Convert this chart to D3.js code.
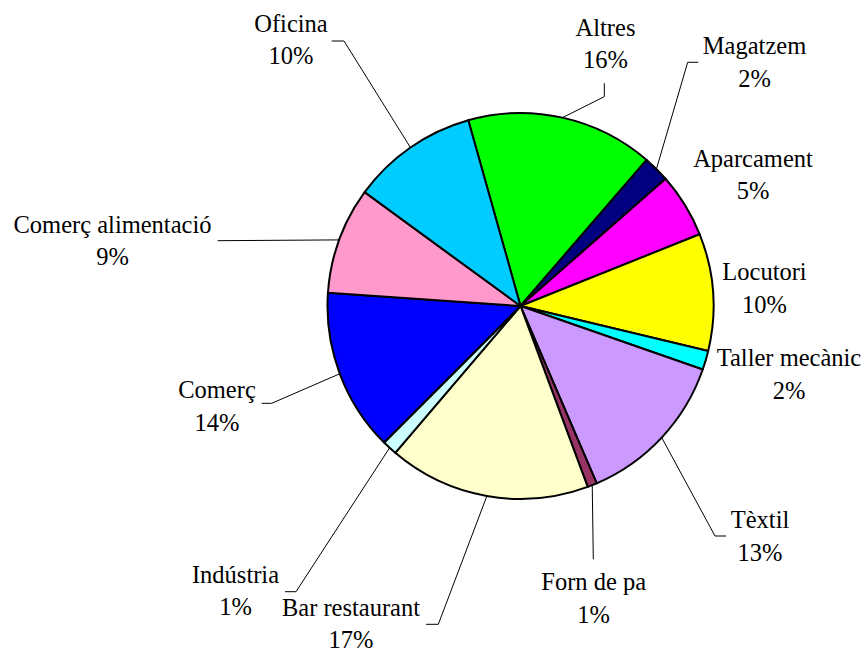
<!DOCTYPE html>
<html>
<head>
<meta charset="utf-8">
<script src="https://cdn.jsdelivr.net/npm/d3@7"></script>
<style>
  html, body { margin: 0; padding: 0; background: #fff; }
  svg { display: block; }
</style>
</head>
<body>
<div id="chart"></div>
<script>
// Categories, in drawing order (clockwise)
var categories = ['Altres', 'Magatzem', 'Aparcament', 'Locutori', 'Taller mecànic', 'Tèxtil',
  'Forn de pa', 'Bar restaurant', 'Indústria', 'Comerç', 'Comerç alimentació', 'Oficina'];

// Slice sizes (share of the circle, %)
var values = [15.7, 2.2, 5.4, 9.8, 1.6, 13.2, 0.8, 16.9, 1.25, 13.6, 8.95, 10.6];

// Percentages as printed in the labels
var percentLabels = ['16%', '2%', '5%', '10%', '2%', '13%', '1%', '17%', '1%', '14%', '9%', '10%'];

var colors = ['#00ff00', '#000080', '#ff00ff', '#ffff00', '#00ffff', '#cc99ff',
  '#993366', '#ffffcc', '#ccffff', '#0000ff', '#ff99cc', '#00ccff'];

// label layout: text centre, first baseline, leader elbow and end (null = no leader)
var labelLayout = {
  'Altres':             { x: 605.5, y: 35.7,  leader: [[604.3, 96.7], [604.3, 83.3]] },
  'Magatzem':           { x: 754.5, y: 54,    leader: [[687.7, 62.3], [698.3, 62.3]] },
  'Aparcament':         { x: 753,   y: 166.7, leader: null },
  'Locutori':           { x: 764.5, y: 280,   leader: null },
  'Taller mecànic':     { x: 789,   y: 366,   leader: null },
  'Tèxtil':             { x: 760,   y: 528.3, leader: [[715, 536], [726, 536]] },
  'Forn de pa':         { x: 593.7, y: 590,   leader: [[593.3, 559.3]] },
  'Bar restaurant':     { x: 351,   y: 615.7, leader: [[438.3, 624.3], [426, 624.3]] },
  'Indústria':          { x: 235.5, y: 582.7, leader: [[296, 591.7], [285, 591.7]] },
  'Comerç':             { x: 217,   y: 398.3, leader: [[271.7, 403.3], [261.7, 403.3]] },
  'Comerç alimentació': { x: 112.5, y: 232.7, leader: [[217.7, 240.7]] },
  'Oficina':            { x: 291,   y: 31.7,  leader: [[344, 41], [331.7, 41]] }
};

var width = 867,
  height = 653,
  cx = 520.5,
  cy = 306,
  radius = 193,
  lineGap = 32.5,
  startDeg = -15.7;

var svg = d3.select('#chart').append('svg')
  .attr('width', width)
  .attr('height', height);

var color = d3.scaleOrdinal()
  .domain(categories)
  .range(colors);

var pie = d3.pie()
  .sort(null)
  .startAngle(startDeg * Math.PI / 180)
  .endAngle((360 + startDeg) * Math.PI / 180)
  .value(function(d) { return d.value; });

var arc = d3.arc()
  .innerRadius(0)
  .outerRadius(radius);

var data = categories.map(function(c, i) {
  return { name: c, value: values[i], pct: percentLabels[i] };
});

var arcs = pie(data);

var g = svg.append('g')
  .attr('transform', 'translate(' + cx + ',' + cy + ')');

// Leader lines, from the middle of each slice's rim to its label
var line = d3.line();
g.selectAll('path.leader')
  .data(arcs.filter(function(d) { return labelLayout[d.data.name].leader; }))
  .enter().append('path')
  .attr('class', 'leader')
  .attr('fill', 'none')
  .attr('stroke', '#000')
  .attr('stroke-width', 1)
  .attr('d', function(d) {
    var mid = (d.startAngle + d.endAngle) / 2,
      pts = [[Math.sin(mid) * radius, -Math.cos(mid) * radius]];
    labelLayout[d.data.name].leader.forEach(function(p) {
      pts.push([p[0] - cx, p[1] - cy]);
    });
    return line(pts);
  });

// Slices
g.selectAll('path.slice')
  .data(arcs)
  .enter().append('path')
  .attr('class', 'slice')
  .attr('d', arc)
  .attr('fill', function(d) { return color(d.data.name); })
  .attr('stroke', '#000')
  .attr('stroke-width', 2)
  .attr('stroke-linejoin', 'round');

// Labels
var labels = svg.selectAll('text.label')
  .data(arcs)
  .enter().append('text')
  .attr('class', 'label')
  .attr('font-family', '"Liberation Serif", "Times New Roman", Times, "DejaVu Serif", serif')
  .attr('font-size', '24.5px')
  .attr('fill', '#000')
  .attr('text-anchor', 'middle');

labels.append('tspan')
  .attr('x', function(d) { return labelLayout[d.data.name].x; })
  .attr('y', function(d) { return labelLayout[d.data.name].y; })
  .text(function(d) { return d.data.name; });

labels.append('tspan')
  .attr('x', function(d) { return labelLayout[d.data.name].x; })
  .attr('y', function(d) { return labelLayout[d.data.name].y + lineGap; })
  .text(function(d) { return d.data.pct; });
</script>
</body>
</html>
